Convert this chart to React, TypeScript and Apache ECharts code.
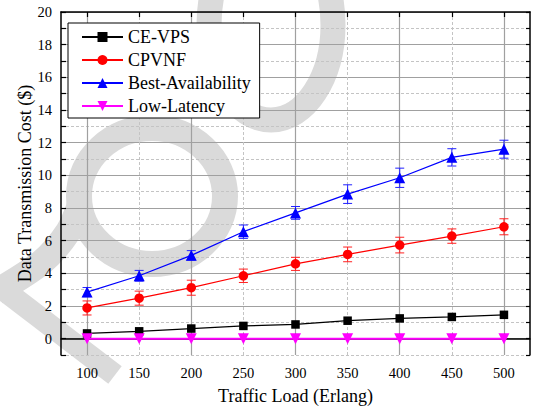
import React, { useEffect, useRef } from "react";
import * as echarts from "echarts";

const categories = ["100", "150", "200", "250", "300", "350", "400", "450", "500"];
const trafficLoad = [100, 150, 200, 250, 300, 350, 400, 450, 500];
const ceVps = [0.32, 0.45, 0.62, 0.78, 0.87, 1.1, 1.24, 1.33, 1.46];
const cpvnf = [1.88, 2.48, 3.12, 3.85, 4.58, 5.16, 5.73, 6.28, 6.85];
const cpvnfErr = [0.43, 0.43, 0.46, 0.41, 0.4, 0.45, 0.48, 0.44, 0.49];
const bestAvail = [2.85, 3.85, 5.1, 6.55, 7.7, 8.85, 9.85, 11.1, 11.6];
const bestAvailErr = [0.28, 0.33, 0.29, 0.41, 0.39, 0.57, 0.59, 0.53, 0.55];
const lowLatency = [0, 0, 0, 0, 0, 0, 0, 0, 0];

const FONT = "'Liberation Serif', 'Times New Roman', serif";
const WM = "#dadada";

function pairs(vals: number[]) {
  return trafficLoad.map((x, i) => [x, vals[i]]);
}

function errSeries(vals: number[], errs: number[], color: string) {
  return {
    type: "custom",
    xAxisIndex: 0,
    yAxisIndex: 0,
    z: 3,
    silent: true,
    data: trafficLoad.map((x, i) => [x, vals[i] - errs[i], vals[i] + errs[i]]),
    encode: { x: 0, y: [1, 2] },
    renderItem: (_p: any, api: any) => {
      const x = api.value(0);
      const lo = api.coord([x, api.value(1)]);
      const hi = api.coord([x, api.value(2)]);
      const w = 4.5;
      const st = { stroke: color, lineWidth: 1 };
      return {
        type: "group",
        children: [
          { type: "line", shape: { x1: lo[0], y1: lo[1], x2: hi[0], y2: hi[1] }, style: st },
          { type: "line", shape: { x1: lo[0] - w, y1: lo[1], x2: lo[0] + w, y2: lo[1] }, style: st },
          { type: "line", shape: { x1: hi[0] - w, y1: hi[1], x2: hi[0] + w, y2: hi[1] }, style: st },
        ],
      };
    },
  };
}

function lineSeries(name: string, vals: number[], color: string, symbol: string, size: number, rotate = 0, width = 1.2) {
  return {
    name,
    type: "line",
    xAxisIndex: 0,
    yAxisIndex: 0,
    z: 4,
    data: pairs(vals),
    symbol,
    symbolSize: size,
    symbolRotate: rotate,
    showAllSymbol: true,
    lineStyle: { color, width },
    itemStyle: { color, borderWidth: 0 },
  };
}

export default function App() {
  const ref = useRef<HTMLDivElement>(null);
  useEffect(() => {
    if (!ref.current) return;
    const chart = echarts.init(ref.current, null, { renderer: "svg" });
    const rangeX = { type: "value", min: 75, max: 525, interval: 25 };
    const rangeY = { type: "value", min: -1, max: 20, interval: 1 };
    const off = { axisLine: { show: false }, axisTick: { show: false }, axisLabel: { show: false } };
    chart.setOption({
      animation: false,
      backgroundColor: "#ffffff",
      textStyle: { fontFamily: FONT },
      grid: { left: 61, right: 6, top: 12, bottom: 53, containLabel: false },
      graphic: [
        { type: "ellipse", z: -10, silent: true, shape: { cx: 152, cy: 196, rx: 73, ry: 68 }, style: { fill: "none", stroke: WM, lineWidth: 26 } },
        { type: "ellipse", z: -10, silent: true, shape: { cx: 271, cy: 25, rx: 62, ry: 95 }, style: { fill: "none", stroke: WM, lineWidth: 25 } },
        { type: "polyline", z: -10, silent: true, shape: { points: [[80, 205], [68, 232], [42, 262], [-4, 292]], smooth: 0.3 }, style: { fill: "none", stroke: WM, lineWidth: 26 } },
        { type: "polyline", z: -10, silent: true, shape: { points: [[-4, 284], [115, 375]] }, style: { fill: "none", stroke: WM, lineWidth: 22, lineCap: "butt" } },
      ],
      legend: {
        orient: "vertical",
        left: 68,
        top: 23,
        padding: [5, 9, 3, 13],
        itemGap: 5,
        itemWidth: 41,
        itemHeight: 12.5,
        backgroundColor: "#ffffff",
        borderColor: "#000000",
        borderWidth: 1,
        borderRadius: 0,
        z: 20,
        data: ["CE-VPS", "CPVNF", "Best-Availability", "Low-Latency"],
        textStyle: { fontFamily: FONT, fontSize: 18, lineHeight: 18, color: "#000" },
      },
      xAxis: [
        {
          ...rangeX,
          position: "bottom",
          axisLine: { show: true, lineStyle: { color: "#000", width: 1.5 } },
          axisTick: { show: false },
          axisLabel: { show: false },
          name: "Traffic Load (Erlang)",
          nameLocation: "middle",
          nameGap: 32,
          nameMoveOverlap: false,
          nameTextStyle: { fontFamily: FONT, fontSize: 18, color: "#000" },
          splitLine: { show: true, lineStyle: { color: ["transparent", "#a0a0a0", "transparent", "transparent"], width: 1.2 } },
        },
        {
          ...rangeX,
          position: "bottom",
          ...off,
          splitLine: { show: true, lineStyle: { color: ["transparent", "transparent", "transparent", "#c4c4c4"], width: 1, type: [3, 2] } },
        },
        {
          type: "category",
          data: categories,
          position: "bottom",
          boundaryGap: true,
          axisLine: { show: false },
          axisTick: { show: true, inside: true, alignWithLabel: true, length: 5, lineStyle: { color: "#000", width: 1.2 } },
          axisLabel: { show: true, margin: 10, fontFamily: FONT, fontSize: 14.5, color: "#000" },
          splitLine: { show: false },
        },
        {
          type: "category",
          data: categories,
          position: "top",
          boundaryGap: true,
          axisLine: { show: true, lineStyle: { color: "#000", width: 1.5 } },
          axisTick: { show: true, inside: true, alignWithLabel: true, length: 5, lineStyle: { color: "#000", width: 1.2 } },
          axisLabel: { show: false },
          splitLine: { show: false },
        },
      ],
      yAxis: [
        {
          ...rangeY,
          position: "left",
          axisLine: { show: true, lineStyle: { color: "#000", width: 1.5 } },
          axisTick: { show: true, inside: true, length: 5, lineStyle: { color: "#000", width: 1.2 } },
          axisLabel: {
            show: true,
            margin: 9,
            fontFamily: FONT,
            fontSize: 14.5,
            color: "#000",
            showMinLabel: true,
            showMaxLabel: true,
            formatter: (v: number) => (v >= 0 && v % 2 === 0 ? String(v) : ""),
          },
          name: "Data Transmission Cost ($)",
          nameLocation: "middle",
          nameGap: 27,
          nameMoveOverlap: false,
          nameTextStyle: { fontFamily: FONT, fontSize: 18, color: "#000" },
          splitLine: { show: true, lineStyle: { color: ["transparent", "#a0a0a0"], width: 1.2 } },
        },
        {
          ...rangeY,
          position: "left",
          ...off,
          splitLine: { show: true, lineStyle: { color: ["#c4c4c4", "transparent"], width: 1, type: [3, 2] } },
        },
        {
          ...rangeY,
          position: "right",
          axisLine: { show: true, lineStyle: { color: "#000", width: 1.5 } },
          axisTick: { show: true, inside: true, length: 4, lineStyle: { color: "#000", width: 1.2 } },
          axisLabel: { show: false },
          splitLine: { show: false },
        },
      ],
      series: [
        errSeries(cpvnf, cpvnfErr, "#ff2020"),
        errSeries(bestAvail, bestAvailErr, "#2020ff"),
        lineSeries("CE-VPS", ceVps, "#000000", "rect", 8.5),
        lineSeries("CPVNF", cpvnf, "#ff0000", "circle", 9.5),
        lineSeries("Best-Availability", bestAvail, "#0000ff", "triangle", 11),
        lineSeries("Low-Latency", lowLatency, "#ff00ff", "triangle", 11, 180, 2),
      ],
    });
    return () => chart.dispose();
  }, []);
  return <div ref={ref} style={{ position: "fixed", left: 0, top: 0, width: 536, height: 410 }} />;
}
